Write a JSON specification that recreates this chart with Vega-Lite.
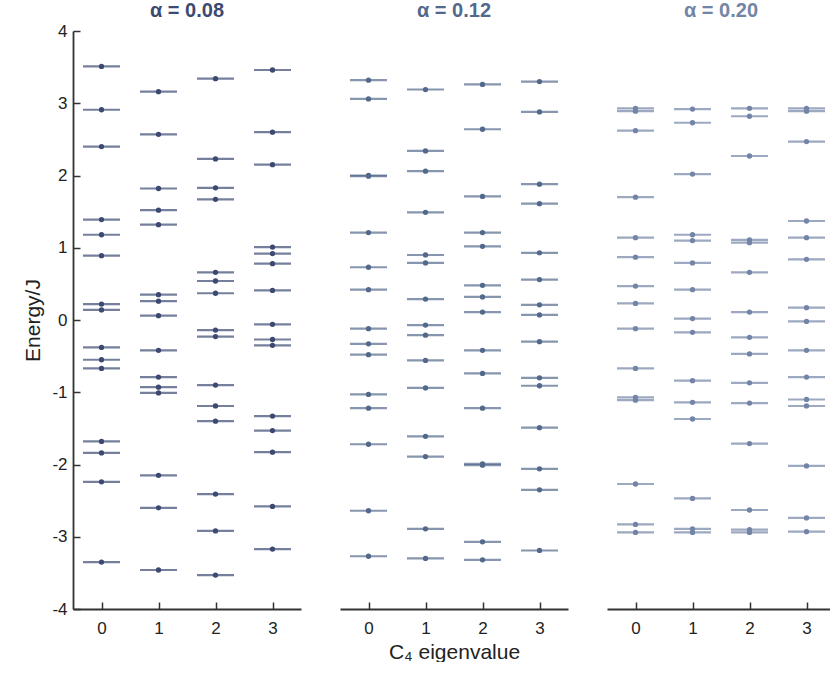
{
  "$schema": "https://vega.github.io/schema/vega-lite/v6.json",
  "background": "white",
  "padding": {"left": 22, "top": 0, "right": 0, "bottom": 0},
  "spacing": 39,
  "datasets": {
    "levels": [
      {"alpha":"0.08","c4":0,"E":3.51},{"alpha":"0.08","c4":0,"E":2.91},{"alpha":"0.08","c4":0,"E":2.40},{"alpha":"0.08","c4":0,"E":1.39},{"alpha":"0.08","c4":0,"E":1.18},{"alpha":"0.08","c4":0,"E":0.89},{"alpha":"0.08","c4":0,"E":0.22},{"alpha":"0.08","c4":0,"E":0.14},{"alpha":"0.08","c4":0,"E":-0.38},{"alpha":"0.08","c4":0,"E":-0.55},{"alpha":"0.08","c4":0,"E":-0.67},{"alpha":"0.08","c4":0,"E":-1.68},{"alpha":"0.08","c4":0,"E":-1.84},{"alpha":"0.08","c4":0,"E":-2.24},{"alpha":"0.08","c4":0,"E":-3.35},
      {"alpha":"0.08","c4":1,"E":3.16},{"alpha":"0.08","c4":1,"E":2.57},{"alpha":"0.08","c4":1,"E":1.82},{"alpha":"0.08","c4":1,"E":1.52},{"alpha":"0.08","c4":1,"E":1.32},{"alpha":"0.08","c4":1,"E":0.35},{"alpha":"0.08","c4":1,"E":0.26},{"alpha":"0.08","c4":1,"E":0.06},{"alpha":"0.08","c4":1,"E":-0.42},{"alpha":"0.08","c4":1,"E":-0.79},{"alpha":"0.08","c4":1,"E":-0.93},{"alpha":"0.08","c4":1,"E":-1.01},{"alpha":"0.08","c4":1,"E":-2.15},{"alpha":"0.08","c4":1,"E":-2.60},{"alpha":"0.08","c4":1,"E":-3.46},
      {"alpha":"0.08","c4":2,"E":3.34},{"alpha":"0.08","c4":2,"E":2.23},{"alpha":"0.08","c4":2,"E":1.83},{"alpha":"0.08","c4":2,"E":1.67},{"alpha":"0.08","c4":2,"E":0.66},{"alpha":"0.08","c4":2,"E":0.54},{"alpha":"0.08","c4":2,"E":0.37},{"alpha":"0.08","c4":2,"E":-0.14},{"alpha":"0.08","c4":2,"E":-0.23},{"alpha":"0.08","c4":2,"E":-0.90},{"alpha":"0.08","c4":2,"E":-1.19},{"alpha":"0.08","c4":2,"E":-1.40},{"alpha":"0.08","c4":2,"E":-2.41},{"alpha":"0.08","c4":2,"E":-2.92},{"alpha":"0.08","c4":2,"E":-3.53},
      {"alpha":"0.08","c4":3,"E":3.46},{"alpha":"0.08","c4":3,"E":2.60},{"alpha":"0.08","c4":3,"E":2.15},{"alpha":"0.08","c4":3,"E":1.01},{"alpha":"0.08","c4":3,"E":0.92},{"alpha":"0.08","c4":3,"E":0.78},{"alpha":"0.08","c4":3,"E":0.41},{"alpha":"0.08","c4":3,"E":-0.06},{"alpha":"0.08","c4":3,"E":-0.27},{"alpha":"0.08","c4":3,"E":-0.35},{"alpha":"0.08","c4":3,"E":-1.33},{"alpha":"0.08","c4":3,"E":-1.53},{"alpha":"0.08","c4":3,"E":-1.83},{"alpha":"0.08","c4":3,"E":-2.58},{"alpha":"0.08","c4":3,"E":-3.17},
      {"alpha":"0.12","c4":0,"E":3.32},{"alpha":"0.12","c4":0,"E":3.06},{"alpha":"0.12","c4":0,"E":2.00},{"alpha":"0.12","c4":0,"E":1.99},{"alpha":"0.12","c4":0,"E":1.21},{"alpha":"0.12","c4":0,"E":0.73},{"alpha":"0.12","c4":0,"E":0.42},{"alpha":"0.12","c4":0,"E":-0.12},{"alpha":"0.12","c4":0,"E":-0.33},{"alpha":"0.12","c4":0,"E":-0.48},{"alpha":"0.12","c4":0,"E":-1.03},{"alpha":"0.12","c4":0,"E":-1.22},{"alpha":"0.12","c4":0,"E":-1.72},{"alpha":"0.12","c4":0,"E":-2.64},{"alpha":"0.12","c4":0,"E":-3.27},
      {"alpha":"0.12","c4":1,"E":3.19},{"alpha":"0.12","c4":1,"E":2.34},{"alpha":"0.12","c4":1,"E":2.06},{"alpha":"0.12","c4":1,"E":1.49},{"alpha":"0.12","c4":1,"E":0.90},{"alpha":"0.12","c4":1,"E":0.79},{"alpha":"0.12","c4":1,"E":0.29},{"alpha":"0.12","c4":1,"E":-0.07},{"alpha":"0.12","c4":1,"E":-0.21},{"alpha":"0.12","c4":1,"E":-0.56},{"alpha":"0.12","c4":1,"E":-0.94},{"alpha":"0.12","c4":1,"E":-1.61},{"alpha":"0.12","c4":1,"E":-1.89},{"alpha":"0.12","c4":1,"E":-2.89},{"alpha":"0.12","c4":1,"E":-3.30},
      {"alpha":"0.12","c4":2,"E":3.26},{"alpha":"0.12","c4":2,"E":2.64},{"alpha":"0.12","c4":2,"E":1.71},{"alpha":"0.12","c4":2,"E":1.21},{"alpha":"0.12","c4":2,"E":1.02},{"alpha":"0.12","c4":2,"E":0.48},{"alpha":"0.12","c4":2,"E":0.32},{"alpha":"0.12","c4":2,"E":0.11},{"alpha":"0.12","c4":2,"E":-0.42},{"alpha":"0.12","c4":2,"E":-0.74},{"alpha":"0.12","c4":2,"E":-1.22},{"alpha":"0.12","c4":2,"E":-1.99},{"alpha":"0.12","c4":2,"E":-2.01},{"alpha":"0.12","c4":2,"E":-3.07},{"alpha":"0.12","c4":2,"E":-3.32},
      {"alpha":"0.12","c4":3,"E":3.30},{"alpha":"0.12","c4":3,"E":2.88},{"alpha":"0.12","c4":3,"E":1.88},{"alpha":"0.12","c4":3,"E":1.61},{"alpha":"0.12","c4":3,"E":0.93},{"alpha":"0.12","c4":3,"E":0.56},{"alpha":"0.12","c4":3,"E":0.21},{"alpha":"0.12","c4":3,"E":0.07},{"alpha":"0.12","c4":3,"E":-0.30},{"alpha":"0.12","c4":3,"E":-0.80},{"alpha":"0.12","c4":3,"E":-0.91},{"alpha":"0.12","c4":3,"E":-1.49},{"alpha":"0.12","c4":3,"E":-2.06},{"alpha":"0.12","c4":3,"E":-2.35},{"alpha":"0.12","c4":3,"E":-3.19},
      {"alpha":"0.20","c4":0,"E":2.93},{"alpha":"0.20","c4":0,"E":2.89},{"alpha":"0.20","c4":0,"E":2.62},{"alpha":"0.20","c4":0,"E":1.70},{"alpha":"0.20","c4":0,"E":1.14},{"alpha":"0.20","c4":0,"E":0.87},{"alpha":"0.20","c4":0,"E":0.47},{"alpha":"0.20","c4":0,"E":0.23},{"alpha":"0.20","c4":0,"E":-0.12},{"alpha":"0.20","c4":0,"E":-0.67},{"alpha":"0.20","c4":0,"E":-1.07},{"alpha":"0.20","c4":0,"E":-1.11},{"alpha":"0.20","c4":0,"E":-2.27},{"alpha":"0.20","c4":0,"E":-2.83},{"alpha":"0.20","c4":0,"E":-2.94},
      {"alpha":"0.20","c4":1,"E":2.92},{"alpha":"0.20","c4":1,"E":2.73},{"alpha":"0.20","c4":1,"E":2.02},{"alpha":"0.20","c4":1,"E":1.18},{"alpha":"0.20","c4":1,"E":1.10},{"alpha":"0.20","c4":1,"E":0.79},{"alpha":"0.20","c4":1,"E":0.42},{"alpha":"0.20","c4":1,"E":0.02},{"alpha":"0.20","c4":1,"E":-0.17},{"alpha":"0.20","c4":1,"E":-0.84},{"alpha":"0.20","c4":1,"E":-1.14},{"alpha":"0.20","c4":1,"E":-1.37},{"alpha":"0.20","c4":1,"E":-2.47},{"alpha":"0.20","c4":1,"E":-2.89},{"alpha":"0.20","c4":1,"E":-2.94},
      {"alpha":"0.20","c4":2,"E":2.93},{"alpha":"0.20","c4":2,"E":2.82},{"alpha":"0.20","c4":2,"E":2.27},{"alpha":"0.20","c4":2,"E":1.11},{"alpha":"0.20","c4":2,"E":1.07},{"alpha":"0.20","c4":2,"E":0.66},{"alpha":"0.20","c4":2,"E":0.11},{"alpha":"0.20","c4":2,"E":-0.24},{"alpha":"0.20","c4":2,"E":-0.47},{"alpha":"0.20","c4":2,"E":-0.87},{"alpha":"0.20","c4":2,"E":-1.15},{"alpha":"0.20","c4":2,"E":-1.71},{"alpha":"0.20","c4":2,"E":-2.63},{"alpha":"0.20","c4":2,"E":-2.90},{"alpha":"0.20","c4":2,"E":-2.94},
      {"alpha":"0.20","c4":3,"E":2.93},{"alpha":"0.20","c4":3,"E":2.89},{"alpha":"0.20","c4":3,"E":2.47},{"alpha":"0.20","c4":3,"E":1.37},{"alpha":"0.20","c4":3,"E":1.14},{"alpha":"0.20","c4":3,"E":0.84},{"alpha":"0.20","c4":3,"E":0.17},{"alpha":"0.20","c4":3,"E":-0.02},{"alpha":"0.20","c4":3,"E":-0.42},{"alpha":"0.20","c4":3,"E":-0.79},{"alpha":"0.20","c4":3,"E":-1.10},{"alpha":"0.20","c4":3,"E":-1.19},{"alpha":"0.20","c4":3,"E":-2.02},{"alpha":"0.20","c4":3,"E":-2.74},{"alpha":"0.20","c4":3,"E":-2.93}
    ]
  },
  "config": {
    "view": {"stroke": null},
    "font": "Liberation Sans",
    "axis": {
      "grid": false,
      "domainColor": "#333333",
      "domainWidth": 1.8,
      "tickColor": "#333333",
      "tickWidth": 1.5,
      "labelFont": "Liberation Sans",
      "labelFontSize": 17,
      "labelColor": "#222222",
      "titleFont": "Liberation Sans",
      "titleFontSize": 21,
      "titleFontWeight": "normal",
      "titleColor": "#222222"
    },
    "title": {"font": "Liberation Sans", "fontSize": 20, "fontWeight": "bold", "anchor": "middle", "offset": 10}
  },
  "hconcat": [
    {
      "width": 228, "height": 578,
      "title": {"text": "α = 0.08", "color": "#3c4a72", "offset": 1.5},
      "data": {"name": "levels"},
      "transform": [{"filter": "datum.alpha === '0.08'"}],
      "encoding": {
        "x": {"field": "c4", "type": "ordinal", "scale": {"type": "point", "padding": 0.5, "domain": [0, 1, 2, 3]},
              "axis": {"title": null, "labelAngle": 0, "tickSize": -7, "labelPadding": 18}},
        "y": {"field": "E", "type": "quantitative", "scale": {"domain": [-4, 4], "nice": false, "zero": false},
              "axis": {"title": "Energy/J", "values": [-4, -3, -2, -1, 0, 1, 2, 3, 4], "labelExpr": "toString(datum.value)", "tickSize": -7, "labelPadding": 13, "titlePadding": 8}}
      },
      "layer": [
        {"mark": {"type": "tick", "orient": "horizontal", "size": 37, "thickness": 2.2, "color": "#3c4a72"}},
        {"mark": {"type": "point", "filled": true, "size": 28, "opacity": 1, "color": "#3c4a72"}}
      ]
    },
    {
      "width": 228, "height": 578,
      "title": {"text": "α = 0.12", "color": "#52698c"},
      "data": {"name": "levels"},
      "transform": [{"filter": "datum.alpha === '0.12'"}],
      "encoding": {
        "x": {"field": "c4", "type": "ordinal", "scale": {"type": "point", "padding": 0.5, "domain": [0, 1, 2, 3]},
              "axis": {"title": "C₄ eigenvalue", "labelAngle": 0, "tickSize": -7, "labelPadding": 18, "titlePadding": 5}},
        "y": {"field": "E", "type": "quantitative", "scale": {"domain": [-4, 4], "nice": false, "zero": false}, "axis": null}
      },
      "layer": [
        {"mark": {"type": "tick", "orient": "horizontal", "size": 37, "thickness": 2.2, "color": "#52698c"}},
        {"mark": {"type": "point", "filled": true, "size": 28, "opacity": 1, "color": "#52698c"}}
      ]
    },
    {
      "width": 228, "height": 578,
      "title": {"text": "α = 0.20", "color": "#7285a6"},
      "data": {"name": "levels"},
      "transform": [{"filter": "datum.alpha === '0.20'"}],
      "encoding": {
        "x": {"field": "c4", "type": "ordinal", "scale": {"type": "point", "padding": 0.5, "domain": [0, 1, 2, 3]},
              "axis": {"title": null, "labelAngle": 0, "tickSize": -7, "labelPadding": 18}},
        "y": {"field": "E", "type": "quantitative", "scale": {"domain": [-4, 4], "nice": false, "zero": false}, "axis": null}
      },
      "layer": [
        {"mark": {"type": "tick", "orient": "horizontal", "size": 37, "thickness": 2.2, "color": "#7285a6"}},
        {"mark": {"type": "point", "filled": true, "size": 28, "opacity": 1, "color": "#7285a6"}}
      ]
    }
  ]
}
